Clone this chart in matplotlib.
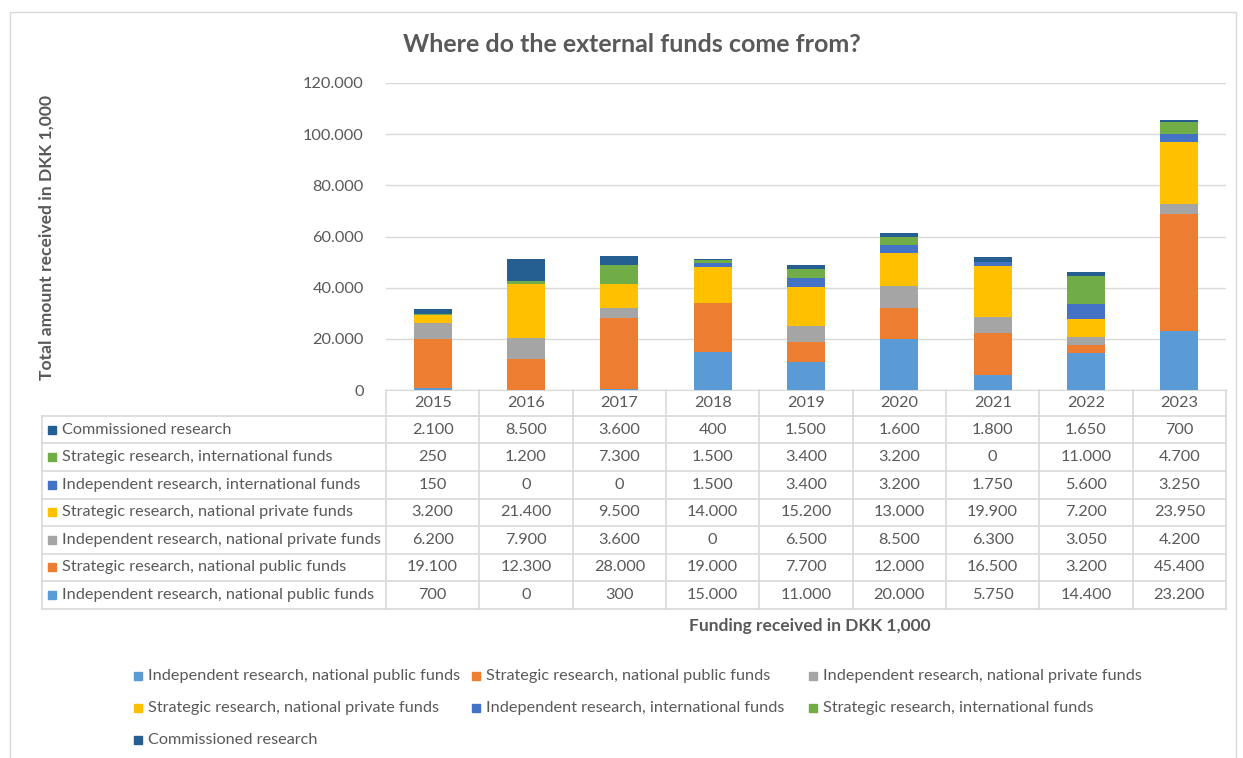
import matplotlib
matplotlib.use("Agg")
import matplotlib.pyplot as plt
import matplotlib.transforms as mtransforms
from matplotlib.lines import Line2D
from matplotlib.patches import Rectangle
import numpy as np

plt.rcParams['font.family'] = ['Lato', 'DejaVu Sans']

years = ["2015", "2016", "2017", "2018", "2019", "2020", "2021", "2022", "2023"]

indep_nat_public = [700, 0, 300, 15000, 11000, 20000, 5750, 14400, 23200]
strat_nat_public = [19100, 12300, 28000, 19000, 7700, 12000, 16500, 3200, 45400]
indep_nat_private = [6200, 7900, 3600, 0, 6500, 8500, 6300, 3050, 4200]
strat_nat_private = [3200, 21400, 9500, 14000, 15200, 13000, 19900, 7200, 23950]
indep_intl = [150, 0, 0, 1500, 3400, 3200, 1750, 5600, 3250]
strat_intl = [250, 1200, 7300, 1500, 3400, 3200, 0, 11000, 4700]
commissioned = [2100, 8500, 3600, 400, 1500, 1600, 1800, 1650, 700]

series = [indep_nat_public, strat_nat_public, indep_nat_private,
          strat_nat_private, indep_intl, strat_intl, commissioned]
names = ["Independent research, national public funds",
         "Strategic research, national public funds",
         "Independent research, national private funds",
         "Strategic research, national private funds",
         "Independent research, international funds",
         "Strategic research, international funds",
         "Commissioned research"]
colors = ["#5B9BD5", "#ED7D31", "#A5A5A5", "#FFC000", "#4472C4", "#70AD47", "#255E91"]

title = "Where do the external funds come from?"
ylabel = "Total amount received in DKK 1,000"
xlabel = "Funding received in DKK 1,000"

TXT = "#595959"
GRID = "#D9D9D9"
FS = 11.7
W, H = 1243, 758


def fx(px):
    return px / W


def fy(px):
    return 1 - px / H


def fmt(v):
    return f"{v:,}".replace(",", ".")


fig = plt.figure(figsize=(W / 100, H / 100), dpi=100)

# outer chart border
fig.add_artist(Rectangle((fx(10), fy(790)), fx(1236) - fx(10), fy(12) - fy(790),
                         transform=fig.transFigure, fill=False, ec=GRID, lw=1))

ax = fig.add_axes([fx(386), fy(390), fx(1226) - fx(386), fy(83) - fy(390)])
x = np.arange(len(years))
bottom = np.zeros(len(years))
for vals, c, n in zip(series, colors, names):
    ax.bar(x, vals, width=0.41, bottom=bottom, color=c, label=n, zorder=3)
    bottom += np.array(vals)

ax.set_xlim(-0.5, len(years) - 0.5)
ax.set_ylim(0, 120000)
ax.set_yticks(np.arange(0, 120001, 20000))
ax.set_yticklabels([fmt(v) for v in range(0, 120001, 20000)], fontsize=FS, color=TXT)
ax.set_xticks([])
ax.tick_params(axis='y', length=0, pad=16)
ax.grid(axis='y', color=GRID, lw=1, zorder=0)
for s in ["top", "right", "left"]:
    ax.spines[s].set_visible(False)
ax.spines["bottom"].set_color(GRID)

fig.text(fx(632), fy(45), title, ha='center', va='center', fontsize=18,
         fontweight='bold', color=TXT)
fig.text(fx(47), fy(237), ylabel, ha='center', va='center', rotation=90,
         fontsize=12.6, fontweight='bold', color=TXT)
fig.text(fx(810), fy(626), xlabel, ha='center', va='center',
         fontsize=12.5, fontweight='bold', color=TXT)

# data table under the axes
trans = mtransforms.blended_transform_factory(ax.transData, fig.transFigure)
row_h = 27.5
top = 416
lines_y = [top + i * row_h for i in range(len(series) + 1)]
for y in lines_y:
    fig.add_artist(Line2D([fx(42), fx(1226)], [fy(y), fy(y)],
                          transform=fig.transFigure, color=GRID, lw=1.2))
for k in range(len(years) + 1):
    fig.add_artist(Line2D([k - 0.5, k - 0.5], [fy(390), fy(lines_y[-1])],
                          transform=trans, color=GRID, lw=1.2))
fig.add_artist(Line2D([fx(42), fx(42)], [fy(top), fy(lines_y[-1])],
                      transform=fig.transFigure, color=GRID, lw=1.2))

for i, yr in enumerate(years):
    fig.text(i, fy(403), yr, transform=trans, ha='center', va='center',
             fontsize=FS, color=TXT)

for r, idx in enumerate(range(len(series) - 1, -1, -1)):
    yc = top + (r + 0.5) * row_h
    fig.add_artist(Rectangle((fx(48), fy(yc + 4)), fx(8), fy(0) - fy(8),
                             transform=fig.transFigure, color=colors[idx]))
    fig.text(fx(62), fy(yc), names[idx], ha='left', va='center',
             fontsize=FS, color=TXT)
    for i, v in enumerate(series[idx]):
        fig.text(i, fy(yc), fmt(v), transform=trans, ha='center', va='center',
                 fontsize=FS, color=TXT)

# legend, three columns filled row by row
col_x = [134, 472, 809]
row_y = [676, 708, 740]
for i, (n, c) in enumerate(zip(names, colors)):
    px, py = col_x[i % 3], row_y[i // 3]
    fig.add_artist(Rectangle((fx(px), fy(py + 4)), fx(8), fy(0) - fy(8),
                             transform=fig.transFigure, color=c))
    fig.text(fx(px + 14), fy(py), n, ha='left', va='center',
             fontsize=FS, color=TXT)

fig.savefig("out.png", dpi=100)
